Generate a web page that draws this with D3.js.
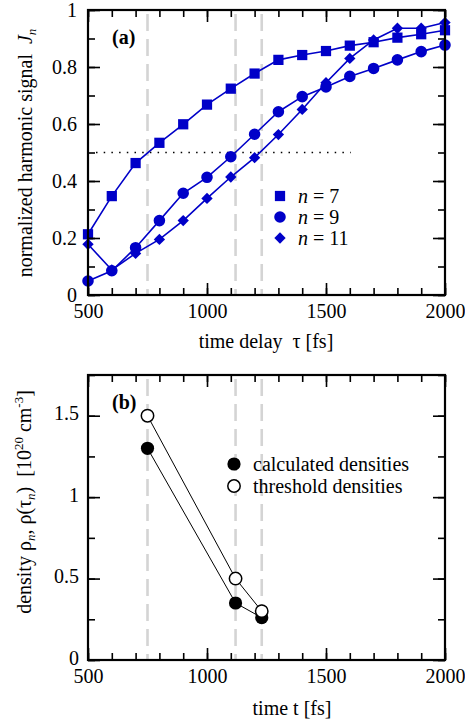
<!DOCTYPE html>
<html><head><meta charset="utf-8">
<script src="https://cdn.jsdelivr.net/npm/d3@7"></script>
<style>
body{margin:0;background:#fff;}
text{font-family:"Liberation Serif","Times New Roman",serif;fill:#000;}
</style></head>
<body><svg id="c" width="465" height="722"></svg>
<script>
// ---- data ----
const tau = [500,600,700,800,900,1000,1100,1200,1300,1400,1500,1600,1700,1800,1900,2000];
const J7  = [0.213,0.347,0.463,0.534,0.599,0.668,0.724,0.777,0.825,0.842,0.856,0.875,0.887,0.903,0.915,0.929];
const J9  = [0.049,0.085,0.166,0.261,0.357,0.413,0.485,0.564,0.643,0.696,0.730,0.767,0.795,0.825,0.854,0.877];
const J11 = [0.178,0.088,0.146,0.195,0.261,0.339,0.414,0.482,0.563,0.651,0.745,0.830,0.895,0.936,0.936,0.956];
const seriesNames = ["7","9","11"];
const thresholdTimes = [750,1120,1230];
const rhoCalc = [1.30,0.35,0.26];
const rhoThr  = [1.50,0.50,0.30];
const halfLevel = 0.5, halfFrom = 500, halfTo = 1600;
const xTickLabels = ["500","1000","1500","2000"];
const xTickVals = [500,1000,1500,2000];
const yTickValsA = [0,0.2,0.4,0.6,0.8,1];
const yTickLabelsA = ["0","0.2","0.4","0.6","0.8","1"];
const yTickValsB = [0,0.5,1,1.5];
const yTickLabelsB = ["0","0.5","1","1.5"];
const legendB = ["calculated densities","threshold densities"];

// ---- drawing ----
const FS = 20;
const svg = d3.select("#c");
const BLUE = "#0000c8";
const L = 88, R = 445;
const x = d3.scaleLinear().domain([500,2000]).range([L,R]);
const xMinor = d3.range(500,2001,100);

function frame(g, y, yMajor, yMinor, yLabels, top, bot, lblPad, lblDy){
  const H = bot - top;
  g.append("g").attr("transform",`translate(0,${bot})`).call(d3.axisBottom(x).tickValues(xMinor).tickSize(-7).tickFormat(""));
  g.append("g").attr("transform",`translate(0,${bot})`).call(d3.axisBottom(x).tickValues(xTickVals).tickSize(-12).tickFormat(""));
  g.append("g").attr("class","lbl").attr("transform",`translate(0,${bot})`).call(d3.axisBottom(x).tickValues(xTickVals).tickSize(0).tickPadding(9).tickFormat((d,i)=>xTickLabels[i]));
  g.append("g").attr("transform",`translate(0,${top})`).call(d3.axisTop(x).tickValues(xMinor).tickSize(-7).tickFormat(""));
  g.append("g").attr("transform",`translate(0,${top})`).call(d3.axisTop(x).tickValues(xTickVals).tickSize(-12).tickFormat(""));
  g.append("g").attr("transform",`translate(${L},0)`).call(d3.axisLeft(y).tickValues(yMinor).tickSize(-7).tickFormat(""));
  g.append("g").attr("transform",`translate(${L},0)`).call(d3.axisLeft(y).tickValues(yMajor).tickSize(-12).tickFormat(""));
  const yl = g.append("g").attr("class","lbl").attr("transform",`translate(${L},0)`).call(d3.axisLeft(y).tickValues(yMajor).tickSize(0).tickPadding(lblPad).tickFormat((d,i)=>yLabels[i]));
  yl.selectAll("text").attr("dy",lblDy);
  g.append("g").attr("transform",`translate(${R},0)`).call(d3.axisRight(y).tickValues(yMinor).tickSize(-7).tickFormat(""));
  g.append("g").attr("transform",`translate(${R},0)`).call(d3.axisRight(y).tickValues(yMajor).tickSize(-12).tickFormat(""));
  g.selectAll(".domain").remove();
  g.selectAll(".tick line").attr("stroke","#000").attr("stroke-width",1.6);
  g.selectAll(".lbl text").attr("font-size",FS).attr("fill","#000");
  g.append("rect").attr("x",L).attr("y",top).attr("width",R-L).attr("height",H)
    .attr("fill","none").attr("stroke","#000").attr("stroke-width",2.2);
}

function dashes(g, top, bot){
  g.selectAll(null).data(thresholdTimes).join("line")
    .attr("x1",d=>x(d)).attr("x2",d=>x(d)).attr("y1",top+4).attr("y2",bot)
    .attr("stroke","#d4d4d4").attr("stroke-width",2.6).attr("stroke-dasharray","17,8");
}

// ===== Panel (a) =====
const topA = 10, botA = 295;
const yA = d3.scaleLinear().domain([0,1]).range([botA,topA]);
const gA = svg.append("g");
dashes(gA, topA, botA);
gA.append("line").attr("x1",x(halfFrom)+8).attr("x2",x(halfTo)+1).attr("y1",yA(halfLevel)).attr("y2",yA(halfLevel))
  .attr("stroke","#000").attr("stroke-width",1.3).attr("stroke-dasharray","1.5,6.2");

const seriesA = [J7,J9,J11];
const line = d3.line().x((d,i)=>x(tau[i])).y(d=>yA(d));
seriesA.forEach(s=>{
  gA.append("path").attr("d",line(s)).attr("fill","none").attr("stroke",BLUE).attr("stroke-width",1.6);
});
const symSquare = d3.symbol().type(d3.symbolSquare).size(105);
const symCircle = d3.symbol().type(d3.symbolCircle).size(105);
const symDiamond = d3.symbol().type(d3.symbolSquare).size(64);
const symbols = [symSquare, symCircle, symDiamond];
const rots = [0,0,45];
seriesA.forEach((s,k)=>{
  gA.selectAll(null).data(s).join("path")
    .attr("transform",(d,i)=>`translate(${x(tau[i])},${yA(d)}) rotate(${rots[k]})`)
    .attr("d",symbols[k]()).attr("fill",BLUE);
});
seriesNames.forEach((n,k)=>{
  const ly = 196 + k*21;
  gA.append("path").attr("transform",`translate(280,${ly}) rotate(${rots[k]})`).attr("d",symbols[k]()).attr("fill",BLUE);
  const t = gA.append("text").attr("x",298).attr("y",ly+6.5).attr("font-size",FS);
  t.append("tspan").attr("font-style","italic").text("n");
  t.append("tspan").text("\u00a0=\u00a0"+n);
});
frame(gA, yA, yTickValsA, d3.range(0,1.001,0.1), yTickLabelsA, topA, botA, 11, "0.32em");
gA.append("text").attr("x",112).attr("y",44).attr("font-size",FS).attr("font-weight","bold").text("(a)");
{
  const t = gA.append("text").attr("transform","translate(32,153) rotate(-90)").attr("text-anchor","middle").attr("font-size",FS);
  t.append("tspan").text("normalized harmonic signal\u00a0\u00a0");
  t.append("tspan").attr("font-style","italic").text("J");
  t.append("tspan").attr("font-style","italic").attr("font-size",13).attr("dy",4).text("n");
}
gA.append("text").attr("x",266).attr("y",348).attr("text-anchor","middle").attr("font-size",FS).text("time delay\u00a0\u00a0τ [fs]");

// ===== Panel (b) =====
const topB = 375, botB = 660;
const yB = d3.scaleLinear().domain([0,1.75]).range([botB,topB]);
const gB = svg.append("g");
dashes(gB, topB, botB);
const lineB = d3.line().x((d,i)=>x(thresholdTimes[i])).y(d=>yB(d));
[rhoCalc, rhoThr].forEach(s=>{
  gB.append("path").attr("d",lineB(s)).attr("fill","none").attr("stroke","#000").attr("stroke-width",1);
});
gB.selectAll(null).data(rhoCalc).join("circle")
  .attr("cx",(d,i)=>x(thresholdTimes[i])).attr("cy",d=>yB(d)).attr("r",6.6).attr("fill","#000");
gB.selectAll(null).data(rhoThr).join("circle")
  .attr("cx",(d,i)=>x(thresholdTimes[i])).attr("cy",d=>yB(d)).attr("r",6.2).attr("fill","#fff").attr("stroke","#000").attr("stroke-width",1.5);
legendB.forEach((lab,k)=>{
  const ly = 464 + k*22;
  gB.append("circle").attr("cx",234).attr("cy",ly).attr("r",k?6.2:6.6).attr("fill",k?"#fff":"#000").attr("stroke","#000").attr("stroke-width",k?1.5:0);
  gB.append("text").attr("x",253).attr("y",ly+6.5).attr("font-size",FS).text(lab);
});
frame(gB, yB, yTickValsB, d3.range(0,1.751,0.25), yTickLabelsB, topB, botB, 9, "0.2em");
gB.append("text").attr("x",112).attr("y",409).attr("font-size",FS).attr("font-weight","bold").text("(b)");
{
  const t = gB.append("text").attr("transform","translate(31,502) rotate(-90)").attr("text-anchor","middle").attr("font-size",FS);
  t.append("tspan").text("density ρ");
  t.append("tspan").attr("font-style","italic").attr("font-size",13).attr("dy",4).text("n");
  t.append("tspan").attr("dy",-4).text(", ρ(τ");
  t.append("tspan").attr("font-style","italic").attr("font-size",13).attr("dy",4).text("n");
  t.append("tspan").attr("dy",-4).text(")\u00a0\u00a0[10");
  t.append("tspan").attr("font-size",13).attr("dy",-8).text("20");
  t.append("tspan").attr("dy",8).text(" cm");
  t.append("tspan").attr("font-size",13).attr("dy",-8).text("-3");
  t.append("tspan").attr("dy",8).text("]");
}
gB.append("text").attr("x",292).attr("y",715).attr("text-anchor","middle").attr("font-size",FS).text("time t [fs]");
</script></body></html>
